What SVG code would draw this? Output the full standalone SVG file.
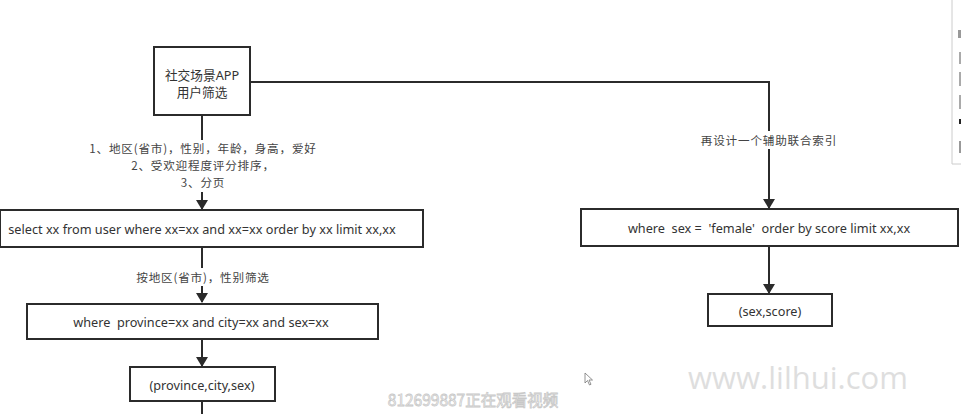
<svg xmlns="http://www.w3.org/2000/svg" width="961" height="414" viewBox="0 0 961 414">
<defs>
<marker id="arr" markerWidth="10" markerHeight="12" refX="9" refY="6" orient="auto" markerUnits="userSpaceOnUse">
<path d="M0,0 L10,6 L0,12 Z" fill="#2b2b2b"/>
</marker>
<style>
.box{fill:#fff;stroke:#2b2b2b;stroke-width:2}
.t{font-family:"Noto Sans","Noto Sans CJK SC",sans-serif;font-size:12.7px;fill:#333;text-anchor:middle;dominant-baseline:central}
.c{stroke:#2b2b2b;stroke-width:2;fill:none}
.lbl{font-family:"Noto Sans CJK SC","Noto Sans",sans-serif;font-size:11.6px;letter-spacing:0.8px;fill:#444;text-anchor:middle;dominant-baseline:central}
</style>
</defs>
<rect width="961" height="414" fill="#fff"/>
<g id="panel">
<path d="M952,0 V164 H961" fill="none" stroke="#ccc" stroke-width="1"/>
<rect x="958" y="30" width="3" height="8" fill="#999"/>
<rect x="959" y="52" width="2" height="12" fill="#aaa"/>
<rect x="959" y="72" width="2" height="14" fill="#aaa"/>
<rect x="959" y="95" width="2" height="14" fill="#aaa"/>
<rect x="959" y="119" width="2" height="5" fill="#222"/>
<rect x="959" y="141" width="2" height="12" fill="#999"/>
</g>
<g id="connectors">
<path class="c" d="M202,115 V209" marker-end="url(#arr)"/>
<path class="c" d="M202,247 V302" marker-end="url(#arr)"/>
<path class="c" d="M202,339 V366" marker-end="url(#arr)"/>
<path class="c" d="M202,401 V414"/>
<path class="c" d="M250,82 H769 V208" marker-end="url(#arr)"/>
<path class="c" d="M769,246 V293" marker-end="url(#arr)"/>
<rect x="134" y="140" width="198" height="52" fill="#fff"/>
<text class="lbl" x="203" y="148">1、地区(省市)，性别，年龄，身高，爱好</text>
<text class="lbl" x="203" y="165">2、受欢迎程度评分排序，</text>
<text class="lbl" x="203" y="182">3、分页</text>
<rect x="134" y="268" width="138" height="18" fill="#fff"/>
<text class="lbl" x="203" y="277">按地区(省市)，性别筛选</text>
<rect x="699" y="131" width="141" height="18" fill="#fff"/>
<text class="lbl" x="769" y="140">再设计一个辅助联合索引</text>
</g>
<g id="n1">
<rect class="box" x="154" y="47" width="96" height="68"/>
<text class="t" x="202" y="75">社交场景APP</text>
<text class="t" x="202" y="92">用户筛选</text>
</g>
<g id="n2">
<rect class="box" x="0" y="210" width="423" height="37"/>
<text class="t" x="202" y="229">select xx from user where xx=xx and xx=xx order by xx limit xx,xx</text>
</g>
<g id="n3">
<rect class="box" x="27" y="304" width="351" height="35"/>
<text class="t" x="201" y="322" xml:space="preserve">where  province=xx and city=xx and sex=xx</text>
</g>
<g id="n4">
<rect class="box" x="130" y="367" width="145" height="34"/>
<text class="t" x="202" y="385">(province,city,sex)</text>
</g>
<g id="n5">
<rect class="box" x="581" y="209" width="377" height="37"/>
<text class="t" x="769" y="228" xml:space="preserve">where  sex =  'female'  order by score limit xx,xx</text>
</g>
<g id="n6">
<rect class="box" x="708" y="294" width="124" height="32"/>
<text class="t" x="770" y="311">(sex,score)</text>
</g>
<g id="watermarks">
<text x="798" y="377" font-family="'Open Sans','Noto Sans',sans-serif" font-size="31" fill="#dedede" text-anchor="middle" dominant-baseline="central">www.lilhui.com</text>
<text x="473" y="399" font-family="'Noto Sans CJK SC','Noto Sans',sans-serif" font-size="15.5" fill="#fff" stroke="#c8c8c8" stroke-width="0.8" text-anchor="middle" dominant-baseline="central">812699887正在观看视频</text>
<path d="M585,373 V383 L587.5,380.5 L589.5,385 L591,384.3 L589,380 L592.5,380 Z" fill="#fff" stroke="#777" stroke-width="0.8"/>
</g>
</svg>
